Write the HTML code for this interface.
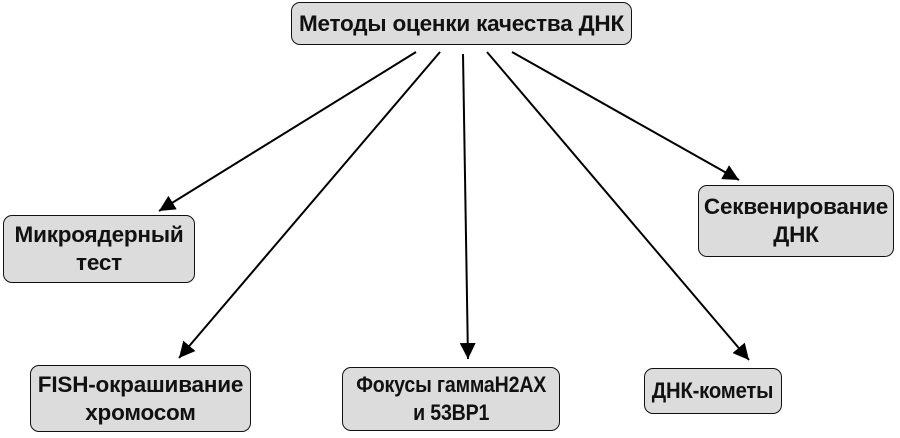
<!DOCTYPE html>
<html><head><meta charset="utf-8"><style>
body{margin:0;width:900px;height:438px;background:#fff;position:relative;overflow:hidden;font-family:"Liberation Sans",sans-serif;}
.b{position:absolute;box-sizing:border-box;background:#dcdcdc;border:1.5px solid #111;border-radius:9px;display:flex;align-items:center;justify-content:center;text-align:center;font-weight:bold;font-size:22.5px;line-height:28px;color:#111;letter-spacing:-0.2px;white-space:nowrap;}
.b span{display:inline-block}
svg{position:absolute;left:0;top:0}
</style></head><body>
<svg width="900" height="438">
<defs>
<marker id="h" viewBox="0 0 10 10" markerWidth="16" markerHeight="16" refX="10" refY="5" orient="auto" markerUnits="userSpaceOnUse"><path d="M0,0 L10,5 L0,10 z" fill="#000"/></marker></defs>
<g stroke="#000" stroke-width="2" marker-end="url(#h)">
<line x1="416" y1="52" x2="159" y2="211"/>
<line x1="440" y1="52" x2="179" y2="358"/>
<line x1="463" y1="54" x2="468" y2="359"/>
<line x1="487" y1="52" x2="749" y2="360"/>
<line x1="512" y1="52" x2="739" y2="180"/>
</g></svg>
<div class="b" style="left:291px;top:2px;width:341px;height:43px">Методы оценки качества ДНК</div>
<div class="b" style="left:3px;top:215px;width:192px;height:68px">Микроядерный<br>тест</div>
<div class="b" style="left:698px;top:185px;width:196px;height:72px">Секвенирование<br>ДНК</div>
<div class="b" style="left:30px;top:365px;width:221px;height:67px">FISH-окрашивание<br>хромосом</div>
<div class="b" style="left:342px;top:367px;width:218px;height:64px"><span style="transform:scaleX(0.87)">Фокусы гаммаH2AX<br>и 53BP1</span></div>
<div class="b" style="left:644px;top:368px;width:138px;height:46px"><span style="transform:scaleX(0.9)">ДНК-кометы</span></div>
</body></html>
